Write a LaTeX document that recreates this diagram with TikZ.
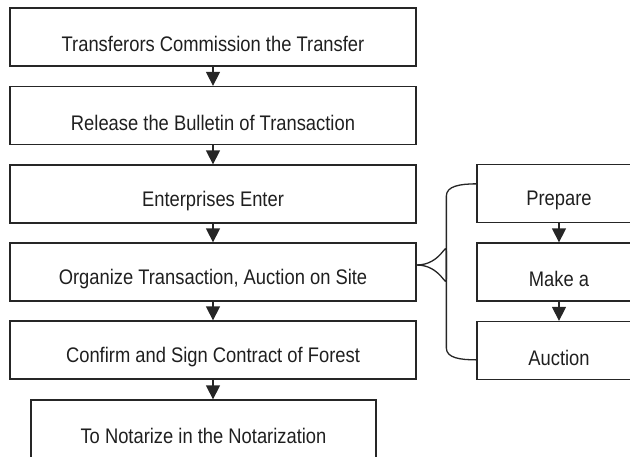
\documentclass[tikz,border=0pt]{standalone}
\usepackage{fontspec}
\setmainfont{Liberation Sans}[FakeStretch=0.87]
\usetikzlibrary{arrows.meta}
\tikzset{
  box/.style={draw=black!85, line width=1.3pt, minimum height=58pt, inner sep=0pt},
  mainbox/.style={box, minimum width=406pt},
  sidebox/.style={box, minimum width=164pt},
  lbl/.style={inner sep=0pt, font=\fontsize{21.1pt}{23pt}\selectfont, text=black!88},
  flow/.style={line width=1.3pt, draw=black!85, -{Triangle[width=14pt,length=14pt]}},
  brace/.style={line width=1.3pt, draw=black!85}
}
\begin{document}
\begin{tikzpicture}[x=1pt, y=-1pt]
  \useasboundingbox (0,0) rectangle (630,456);
  \clip (0,0) rectangle (630,456);

  % main column
  \node[mainbox] (b1) at (213,37) {};
  \node[mainbox] (b2) at (213,115.5) {};
  \node[mainbox] (b3) at (213,194) {};
  \node[mainbox] (b4) at (213,272) {};
  \node[mainbox] (b5) at (213,350) {};
  \node[box, minimum width=345pt] (b6) at (203.5,429) {};

  \node[lbl] (t1) at ([yshift=-7pt]b1.center) {Transferors Commission the Transfer};
  \node[lbl] (t2) at ([yshift=-7pt]b2.center) {Release the Bulletin of Transaction};
  \node[lbl] (t3) at ([yshift=-7pt]b3.center) {Enterprises Enter};
  \node[lbl] (t4) at ([yshift=-7pt]b4.center) {Organize Transaction, Auction on Site};
  \node[lbl] (t5) at ([yshift=-7pt]b5.center) {Confirm and Sign Contract of Forest};
  \node[lbl] (t6) at ([yshift=-7pt]b6.center) {To Notarize in the Notarization};

  % side column
  \node[sidebox] (p) at (559,193.5) {};
  \node[sidebox] (m) at (559,272) {};
  \node[sidebox] (a) at (559,350.5) {};

  \node[lbl] (tp) at ([yshift=-7pt]p.center) {Prepare};
  \node[lbl] (tm) at ([yshift=-7pt]m.center) {Make a};
  \node[lbl] (ta) at ([yshift=-7pt]a.center) {Auction};

  % flow arrows
  \draw[flow] (b1.south) -- (b2.north);
  \draw[flow] (b2.south) -- (b3.north);
  \draw[flow] (b3.south) -- (b4.north);
  \draw[flow] (b4.south) -- (b5.north);
  \draw[flow] (b5.south) -- (b5.south |- b6.north);
  \draw[flow] (p.south) -- (m.north);
  \draw[flow] (m.south) -- (a.north);

  % brace joining the auction step to its sub-steps
  \coordinate (bt) at ([yshift=-20pt]p.north west);
  \coordinate (bb) at ([yshift=-39pt]a.north west);
  \coordinate (bm) at ([yshift=7pt]b4.east);
  \draw[brace] (bm) .. controls +(24,0) and +(0,10) .. ([xshift=-30pt,yshift=-14pt]bm -| bt)
    -- ([xshift=-30pt]bt |- 0,196) .. controls +(0,-10) and +(-16,0) .. (bt);
  \draw[brace] (bm) .. controls +(24,0) and +(0,-10) .. ([xshift=-30pt,yshift=14pt]bm -| bb)
    -- ([xshift=-30pt]bb |- 0,348) .. controls +(0,10) and +(-16,0) .. (bb);
\end{tikzpicture}
\end{document}
